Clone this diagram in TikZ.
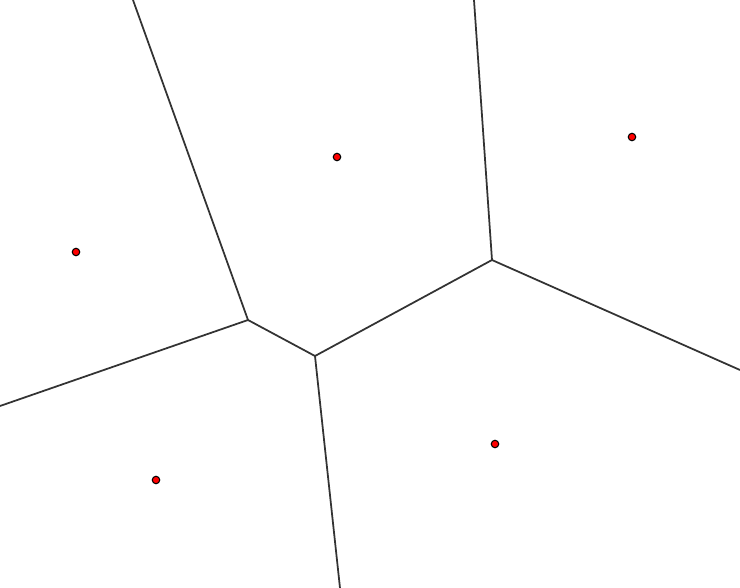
\documentclass[tikz,border=0pt]{standalone}
\begin{document}
\begin{tikzpicture}[x=0.1mm, y=-0.1mm,
    site/.style={circle, draw=black, fill=red, inner sep=0pt, minimum size=0.75mm, line width=0.3pt},
    edge/.style={draw=black!80, line width=0.5pt}]
    \useasboundingbox (0, 0) rectangle (740, 588);

    % Voronoi-Zentren
    \node[site] (s1) at (76, 252) {};
    \node[site] (s2) at (337, 157) {};
    \node[site] (s3) at (632, 137) {};
    \node[site] (s4) at (495, 444) {};
    \node[site] (s5) at (156, 480) {};

    % Knoten und Randpunkte
    \coordinate (v1) at (248, 320);
    \coordinate (v2) at (315, 356);
    \coordinate (v3) at (492, 260);
    \coordinate (r1) at (133, 0);
    \coordinate (r2) at (0, 406);
    \coordinate (r3) at (340, 588);
    \coordinate (r4) at (474, 0);
    \coordinate (r5) at (740, 370);

    % Kanten
    \draw[edge] (r1) -- (v1) -- (r2);
    \draw[edge] (v1) -- (v2) -- (v3);
    \draw[edge] (v2) -- (r3);
    \draw[edge] (r4) -- (v3) -- (r5);
\end{tikzpicture}
\end{document}
